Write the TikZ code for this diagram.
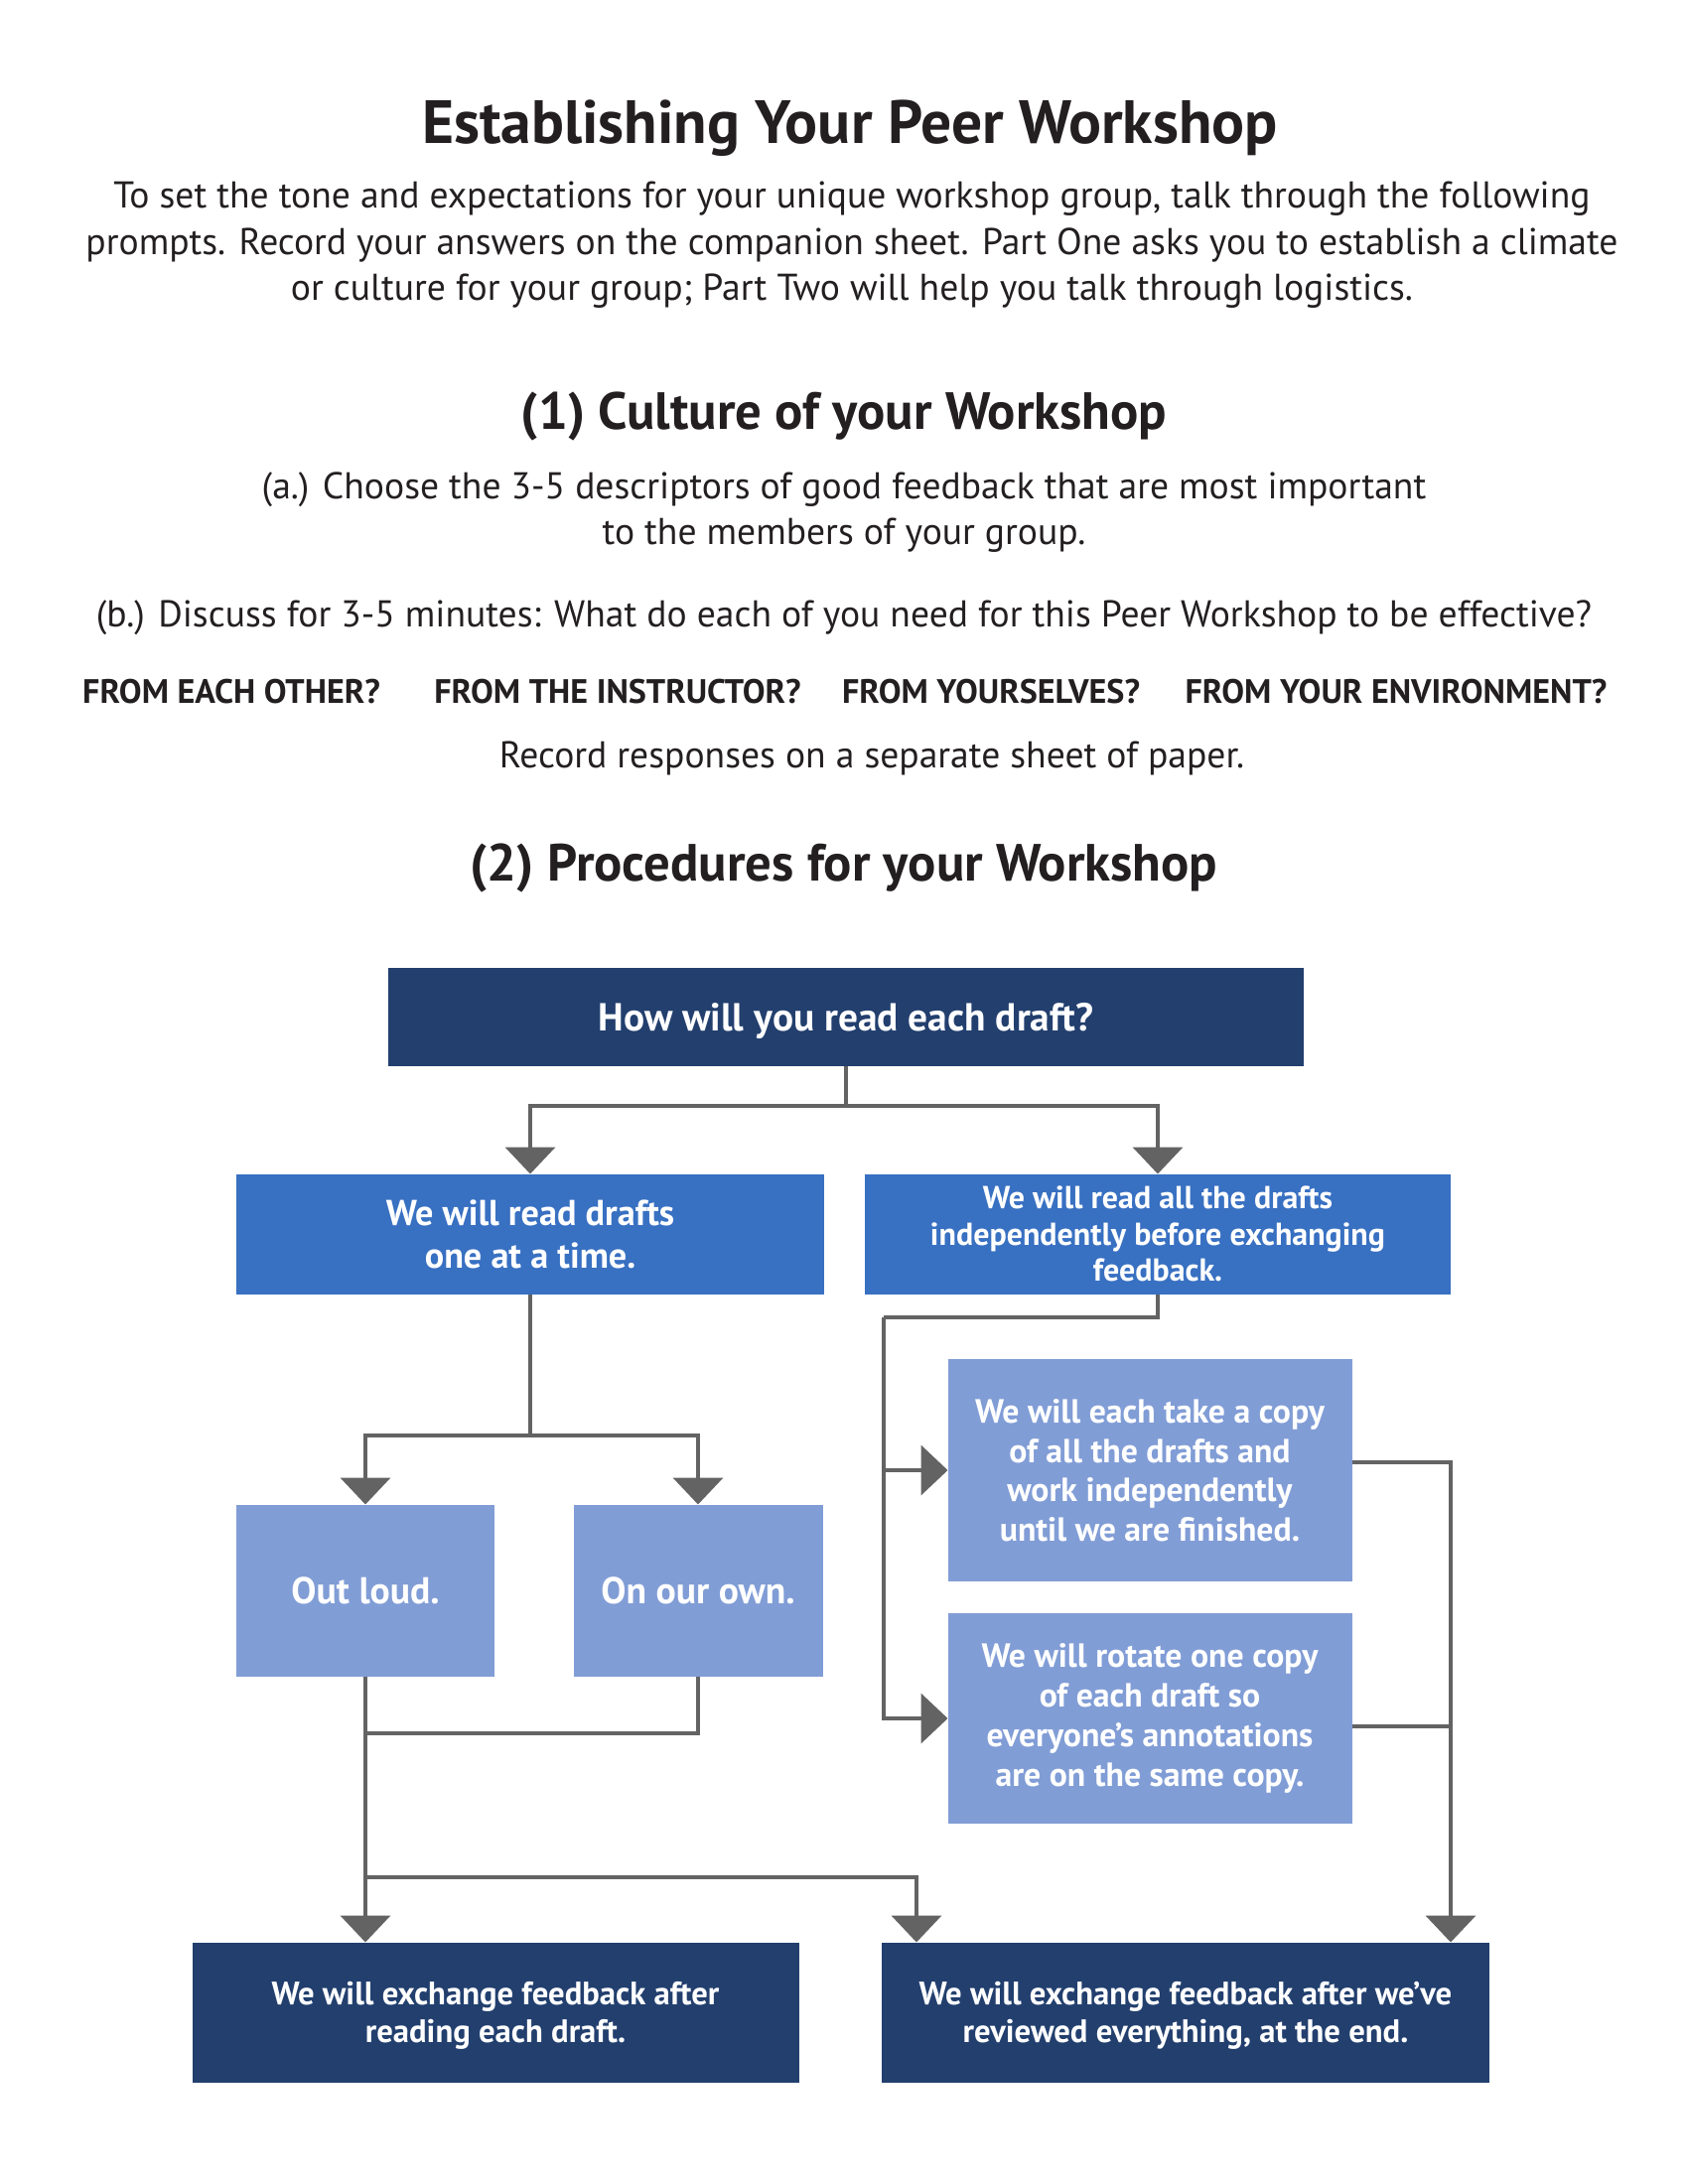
\documentclass[tikz,border=0pt]{standalone}
\usepackage{fontspec}
\setmainfont{PT Sans}
\usetikzlibrary{arrows.meta}
\definecolor{darkbox}{RGB}{34,63,110}
\definecolor{midbox}{RGB}{56,112,194}
\definecolor{lightbox}{RGB}{129,157,214}
\definecolor{linegray}{RGB}{99,99,99}
\definecolor{inkblack}{RGB}{35,31,32}

\begin{document}
\begin{tikzpicture}[x=0.1mm,y=-0.1mm,
	txt/.style={inner sep=0pt,outer sep=0pt,align=center,text=inkblack},
	box/.style={inner sep=0pt,outer sep=0pt,align=center,text=white,text depth=0pt},
	line/.style={draw=linegray,line width=0.42mm},
	arr/.style={line,-{Triangle[width=5mm,length=2.7mm]}}]
	\useasboundingbox (0,0) rectangle (1700,2200);
	\node[txt,font=\fontsize{17.5}{21}\selectfont\bfseries] (title) at (856,129) {Establishing Your Peer Workshop};
	\node[txt,font=\fontsize{10.7}{13.2}\selectfont] (intro) at (858,247) {To set the tone and expectations for your unique workshop group, talk through the following\\prompts. Record your answers on the companion sheet. Part One asks you to establish a climate\\or culture for your group; Part Two will help you talk through logistics.};
	\node[txt,font=\fontsize{15}{18}\selectfont\bfseries] (culture) at (850,419) {(1) Culture of your Workshop};
	\node[txt,font=\fontsize{10.7}{13.2}\selectfont] (parta) at (850,516) {(a.) Choose the 3-5 descriptors of good feedback that are most important\\to the members of your group.};
	\node[txt,font=\fontsize{10.7}{13.2}\selectfont] (partb) at (850,622) {(b.) Discuss for 3-5 minutes: What do each of you need for this Peer Workshop to be effective?};
	\node[txt,font=\fontsize{9.7}{11}\selectfont\bfseries] (other) at (233,697) {FROM EACH OTHER?};
	\node[txt,font=\fontsize{9.7}{11}\selectfont\bfseries] (instr) at (622,697) {FROM THE INSTRUCTOR?};
	\node[txt,font=\fontsize{9.7}{11}\selectfont\bfseries] (selves) at (998,697) {FROM YOURSELVES?};
	\node[txt,font=\fontsize{9.7}{11}\selectfont\bfseries] (envir) at (1406,697) {FROM YOUR ENVIRONMENT?};
	\node[txt,font=\fontsize{10.7}{13.2}\selectfont] (record) at (878,764) {Record responses on a separate sheet of paper.};
	\node[txt,font=\fontsize{15}{18}\selectfont\bfseries] (proced) at (850,874) {(2) Procedures for your Workshop};

	\node[box,fill=darkbox,minimum width=92.2mm,minimum height=9.9mm,font=\fontsize{11.2}{13}\selectfont\bfseries] (q) at (852,1024) {How will you read each draft?};
	\node[box,fill=midbox,minimum width=59.2mm,minimum height=12.1mm,text depth=-0.8mm,font=\fontsize{10.3}{12.2}\selectfont\bfseries] (one) at (534,1243) {We will read drafts\\one at a time.};
	\node[box,fill=midbox,minimum width=59mm,minimum height=12.1mm,font=\fontsize{9.1}{10.4}\selectfont\bfseries] (all) at (1166,1243) {We will read all the drafts\\independently before exchanging\\feedback.};
	\node[box,fill=lightbox,minimum width=40.7mm,minimum height=22.4mm,font=\fontsize{9.6}{11.3}\selectfont\bfseries] (copy) at (1158,1481) {We will each take a copy\\of all the drafts and\\work independently\\until we are finished.};
	\node[box,fill=lightbox,minimum width=40.7mm,minimum height=21.2mm,text depth={},font=\fontsize{9.6}{11.3}\selectfont\bfseries] (rotate) at (1158,1731) {We will rotate one copy\\of each draft so\\everyone’s annotations\\are on the same copy.};
	\node[box,fill=lightbox,minimum width=26mm,minimum height=17.3mm,font=\fontsize{10.7}{12}\selectfont\bfseries] (loud) at (368,1602) {Out loud.};
	\node[box,fill=lightbox,minimum width=25.1mm,minimum height=17.3mm,font=\fontsize{10.7}{12}\selectfont\bfseries] (own) at (703,1602) {On our own.};
	\node[box,fill=darkbox,minimum width=61.1mm,minimum height=14.1mm,text depth=-0.8mm,font=\fontsize{9.3}{10.8}\selectfont\bfseries] (after) at (499,2027) {We will exchange feedback after\\reading each draft.};
	\node[box,fill=darkbox,minimum width=61.2mm,minimum height=14.1mm,font=\fontsize{9.3}{10.8}\selectfont\bfseries] (end) at (1194,2027) {We will exchange feedback after we’ve\\reviewed everything, at the end.};

	\coordinate (qsplit) at (852,1114);
	\draw[line] (q.south) -- (qsplit);
	\draw[arr] (qsplit) -| (one.north);
	\draw[arr] (qsplit) -| (all.north);

	\coordinate (onesplit) at (534,1446);
	\draw[line] (one.south) -- (onesplit);
	\draw[arr] (onesplit) -| (loud.north);
	\draw[arr] (onesplit) -| (own.north);

	\coordinate (allturn) at (890,1327);
	\draw[line] (all.south) |- (allturn);
	\draw[arr] (allturn) |- (copy.west);
	\draw[arr] (allturn) |- (rotate.west);

	\draw[arr] ([yshift=0.8mm]copy.east) -| (all.east |- end.north);
	\draw[line] ([yshift=-0.8mm]rotate.east) -- ([yshift=-0.8mm]rotate.east -| all.east);

	\coordinate (loudjoin) at (368,1746);
	\coordinate (feedsplit) at (368,1891);
	\draw[line] (own.south) |- (loudjoin);
	\draw[arr] (loud.south) -- (loud.south |- after.north);
	\draw[arr] (feedsplit) -| ([xshift=3.5mm]end.north west);
\end{tikzpicture}
\end{document}
